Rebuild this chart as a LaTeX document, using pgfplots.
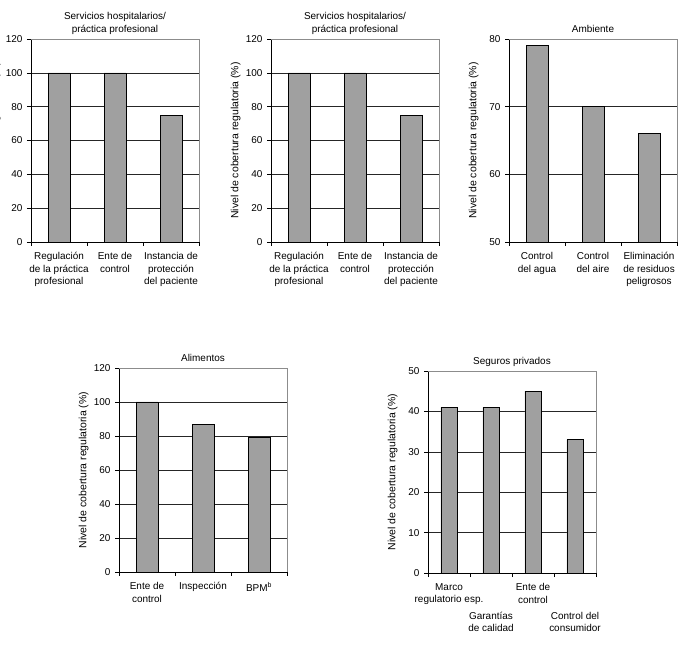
\documentclass[border=0pt]{standalone}
\usepackage{fontspec}
\setmainfont{Liberation Sans}
\usepackage{pgfplots}
\pgfplotsset{compat=1.18}
\definecolor{barfill}{RGB}{160,160,160}
\pgfplotsset{
  panel/.style={
    scale only axis, width=168bp, height=203bp, anchor=south west,
    ybar, bar width=0.39, clip=false,
    xmin=0.5, xmax=3.5,
    axis lines*=left,
    xtick={0.5,1.5,2.5,3.5}, xticklabels={},
    tick align=outside, major tick length=4bp,
    ymajorgrids, grid style={black!85, line width=0.6bp},
    axis line style={black, line width=0.6bp},
    tick style={black, line width=0.6bp},
    /pgf/number format/assume math mode=true,
    ticklabel style={font=\fontsize{10}{12.5}\selectfont},
    yticklabel style={xshift=-1bp},
    extra x tick style={major tick length=0pt,
      xticklabel style={align=center, yshift=-7bp, font=\fontsize{10}{12.5}\selectfont}},
    ylabel={Nivel de cobertura regulatoria (\%)},
    ylabel style={at={(axis description cs:-0.21,0.5)}, anchor=center,
      font=\fontsize{10.5}{12}\selectfont},
    title style={at={(axis description cs:0.5,1)}, anchor=south, yshift=0.5bp,
      inner sep=0pt, text depth=0pt, align=center, font=\fontsize{10}{12.5}\selectfont},
  },
  bars/.style={fill=barfill, draw=black, line width=0.6bp},
}
\newcommand{\grayframe}{\draw[black!45, line width=0.6bp] (rel axis cs:0,1) -- (rel axis cs:1,1) -- (rel axis cs:1,0);}
\begin{document}
\begin{tikzpicture}
\useasboundingbox (0,0) rectangle (678bp,647bp);
\clip (0,0) rectangle (678bp,647bp);

% Panel 1
\begin{axis}[panel, at={(31bp,405bp)},
  ymin=0, ymax=120, ytick={0,20,...,120},
  title={Servicios hospitalarios/\\práctica profesional},
  extra x ticks={1,2,3},
  extra x tick labels={{Regulación\\de la práctica\\profesional},{Ente de\\control},{Instancia de\\protección\\del paciente}}]
\addplot[bars] coordinates {(1,100) (2,100) (3,75)};
\grayframe
\end{axis}

% Panel 2
\begin{axis}[panel, at={(271bp,405bp)},
  ymin=0, ymax=120, ytick={0,20,...,120},
  title={Servicios hospitalarios/\\práctica profesional},
  extra x ticks={1,2,3},
  extra x tick labels={{Regulación\\de la práctica\\profesional},{Ente de\\control},{Instancia de\\protección\\del paciente}}]
\addplot[bars] coordinates {(1,100) (2,100) (3,75)};
\grayframe
\end{axis}

% Panel 3
\begin{axis}[panel, at={(509bp,405bp)},
  ymin=50, ymax=80, ytick={50,60,70,80},
  title={Ambiente},
  extra x ticks={1,2,3},
  extra x tick labels={{Control\\del agua},{Control\\del aire},{Eliminación\\de residuos\\peligrosos}}]
\addplot[bars] coordinates {(1,79) (2,70) (3,66)};
\grayframe
\end{axis}

% Panel 4
\begin{axis}[panel, at={(119bp,75bp)}, height=204bp,
  ymin=0, ymax=120, ytick={0,20,...,120},
  title={Alimentos},
  extra x ticks={1,2,3},
  extra x tick labels={{Ente de\\control},{Inspección},{BPM\textsuperscript{b}}}]
\addplot[bars] coordinates {(1,100) (2,87) (3,79)};
\grayframe
\end{axis}

% Panel 5
\begin{axis}[panel, at={(428bp,74bp)}, height=202bp,
  xmin=0.5, xmax=4.5, xtick={0.5,1.5,2.5,3.5,4.5},
  ymin=0, ymax=50, ytick={0,10,...,50},
  title={Seguros privados},
  extra x ticks={1,2,3,4},
  extra x tick labels={{Marco\\regulatorio esp.},{\vphantom{M}\\[16.5bp]Garantías\\de calidad},{Ente de\\control},{\vphantom{M}\\[16.5bp]Control del\\consumidor}}]
\addplot[bars] coordinates {(1,41) (2,41) (3,45) (4,33)};
\grayframe
\end{axis}
\end{tikzpicture}
\end{document}
